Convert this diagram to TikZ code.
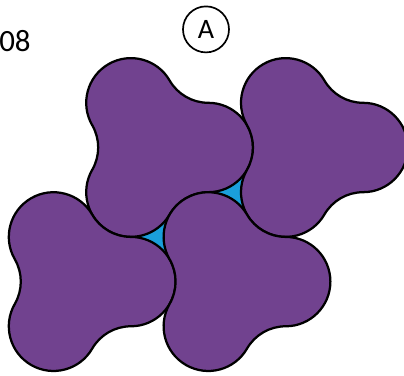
\documentclass[tikz,border=0pt]{standalone}
\usepackage{fontspec}
\setmainfont{Carlito}
\usetikzlibrary{calc}

\definecolor{tilepurple}{HTML}{71428F}
\definecolor{gapblue}{HTML}{1A9FDB}

\tikzset{
    tile/.style={fill=tilepurple, draw=black, line width=1.6pt, line join=round},
    gap/.style={fill=gapblue},
    ring/.style={circle, draw, line width=1.2pt, minimum size=1.15cm, inner sep=0pt, font=\fontsize{20}{24}\selectfont},
}

\begin{document}
\begin{tikzpicture}[x=0.025cm, y=0.025cm]
    \useasboundingbox (0,0) rectangle (404,376);
    \clip (0,0) rectangle (404,376);
    \pgfmathsetmacro{\lobed}{51.6}
    \pgfmathsetmacro{\lober}{sqrt(3)*\lobed/2}

    % Tile centres
    \coordinate (c1) at (156.7,228.5);
    \coordinate (c2) at (311.5,228.5);
    \coordinate (c3) at (79.3,94.4);
    \coordinate (c4) at (234.1,94.4);

    % Gaps where three tiles meet
    \fill[gap] ($(c1)+(0:\lobed)$) -- ($(c2)+(240:\lobed)$) -- ($(c4)+(120:\lobed)$) -- cycle;
    \fill[gap] ($(c1)+(240:\lobed)$) -- ($(c3)+(0:\lobed)$) -- ($(c4)+(120:\lobed)$) -- cycle;

    % Tiles: three lobes joined by hollow arcs
    \foreach \c in {c1,c2,c3,c4}
        \draw[tile] ($(\c)+(\lobed,-\lober)$)
            \foreach \a in {0,120,240} {
                arc[start angle=\a-90, end angle=\a+90, radius=\lober]
                arc[start angle=\a+270, end angle=\a+210, radius=\lober]
            } -- cycle;

    % Labels
    \node[anchor=west, inner sep=0pt, font=\fontsize{22}{26}\selectfont] (year) at (-1,335) {08};
    \node[ring] (panel) at (206,346.6) {A};
\end{tikzpicture}
\end{document}
